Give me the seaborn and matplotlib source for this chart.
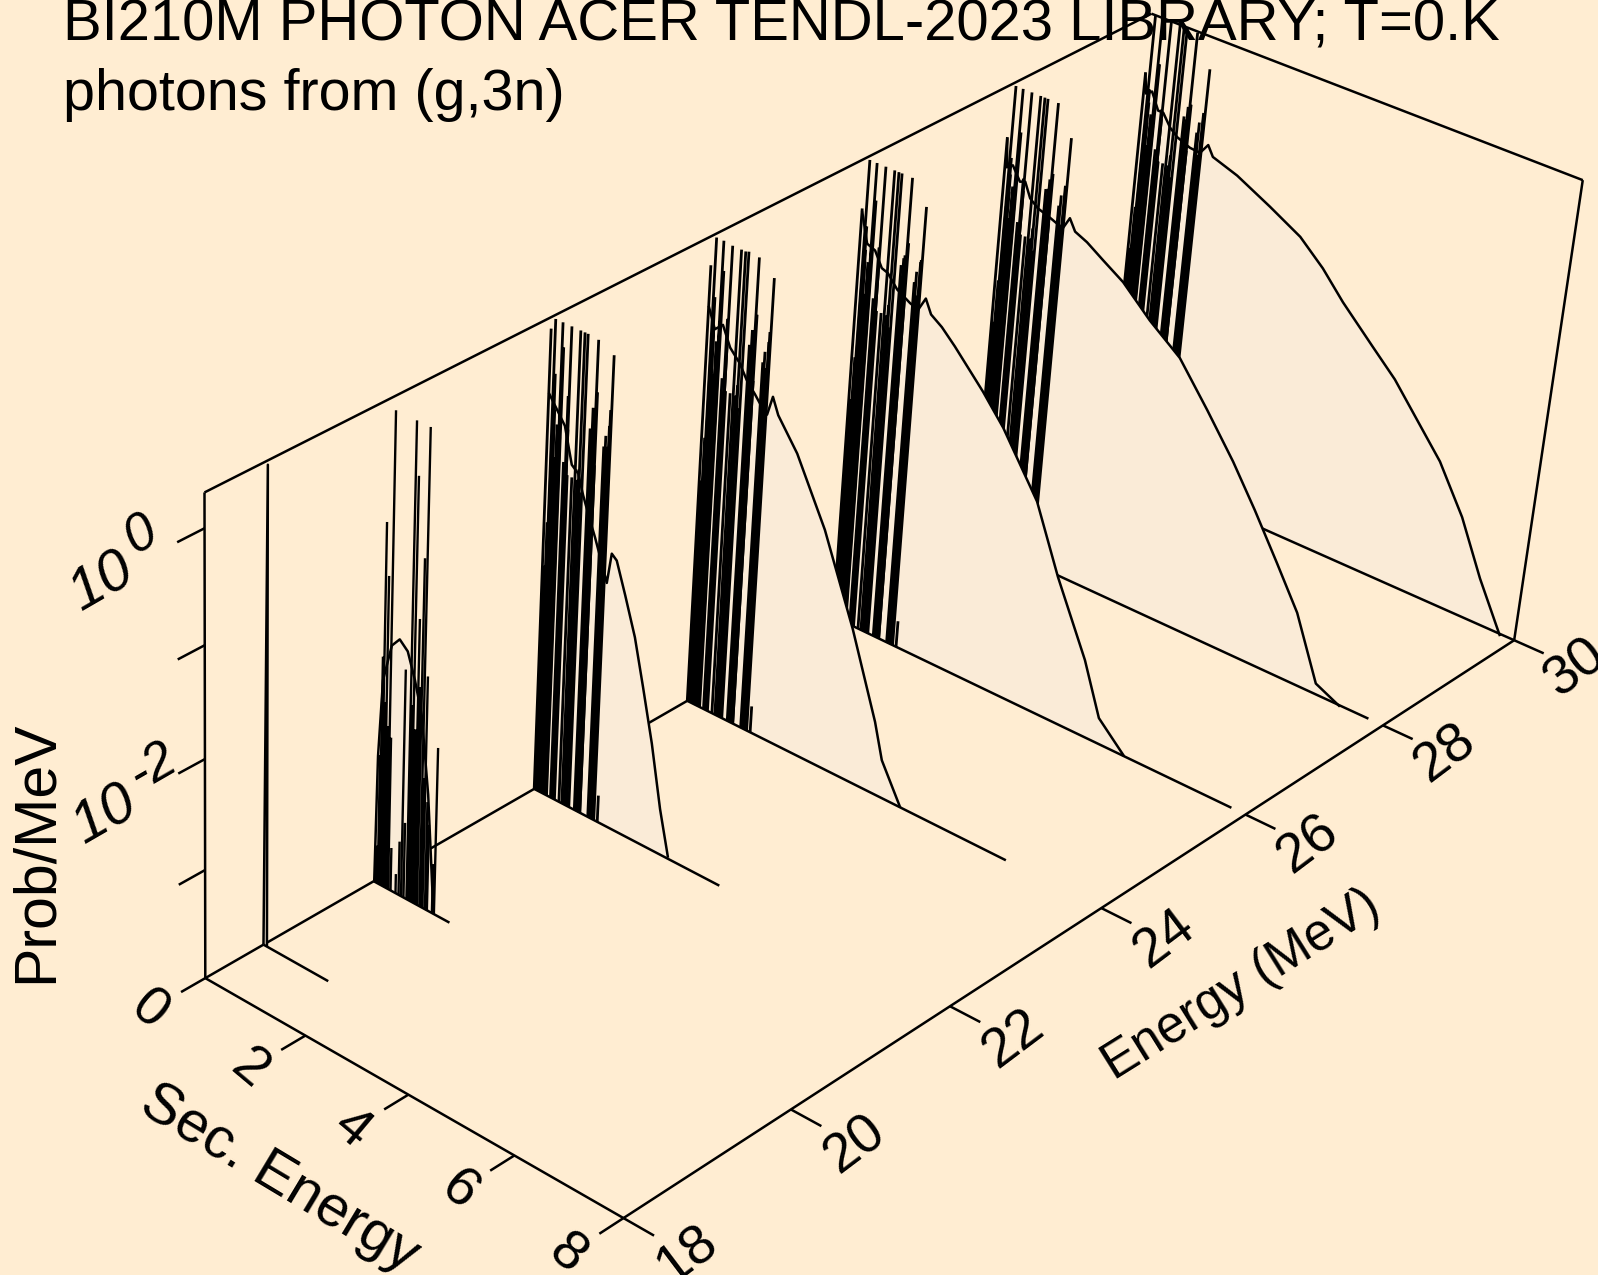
import numpy as np
import matplotlib
matplotlib.use('Agg')
import matplotlib.pyplot as plt
import seaborn as sns

# incident energies (MeV) of the seven spectra, back row last
row_energy = [18.68, 20, 22, 24, 26, 28, 30]
row_end = [1.30, 1.52, 3.67, 6.23, 7.74, 7.73, 8.0]

# continuum curves: secondary energy (MeV) and log10(prob/MeV)
sec_0 = [0.0, 0.035, 0.07]
log_0 = [-4.0, 0.28, -4.0]
sec_1 = [0.01, 0.04, 0.11, 0.27, 0.42, 0.58, 0.73, 0.88, 1.04, 1.19]
log_1 = [-3.99, -2.82, -2.11, -1.76, -1.67, -1.74, -1.96, -2.25, -2.93, -3.93]
sec_2 = [0.0, 0.33, 0.49, 0.62, 0.73, 0.84, 0.99, 1.14, 1.25, 1.32, 1.42, 1.61, 1.83, 2.03, 2.25, 2.47, 2.67]
log_2 = [-0.36, -0.58, -0.89, -0.94, -1.11, -1.25, -1.43, -1.63, -1.78, -1.50, -1.54, -1.81, -2.14, -2.55, -3.02, -3.58, -3.99]
sec_3 = [0.0, 0.14, 0.29, 0.45, 0.65, 0.80, 0.97, 1.14, 1.22, 1.31, 1.43, 1.83, 2.44, 3.09, 3.63, 3.81, 4.22]
log_3 = [-0.32, -0.50, -0.43, -0.60, -0.70, -0.82, -0.91, -1.01, -1.04, -0.86, -1.00, -1.26, -1.82, -2.59, -3.33, -3.65, -4.00]
sec_4 = [0.0, 0.14, 0.30, 0.45, 0.57, 0.77, 1.03, 1.19, 1.32, 1.44, 1.66, 1.93, 2.52, 2.95, 3.69, 4.20, 4.84, 5.20, 5.73]
log_4 = [-0.17, -0.44, -0.47, -0.60, -0.62, -0.73, -0.80, -0.83, -0.70, -0.82, -0.89, -1.01, -1.30, -1.54, -2.06, -2.65, -3.29, -3.76, -4.00]
sec_5 = [0.0, 0.04, 0.15, 0.31, 0.41, 0.53, 0.69, 0.94, 1.10, 1.20, 1.31, 1.43, 1.67, 2.00, 2.41, 2.97, 3.59, 4.19, 4.76, 5.25, 5.76, 6.23, 6.72, 7.20]
log_5 = [-0.19, -0.45, -0.41, -0.53, -0.51, -0.64, -0.70, -0.74, -0.77, -0.78, -0.67, -0.77, -0.82, -0.92, -1.04, -1.28, -1.50, -1.86, -2.22, -2.57, -2.96, -3.33, -3.90, -4.01]
sec_6 = [0.0, 0.05, 0.16, 0.31, 0.41, 0.57, 0.72, 0.98, 1.18, 1.32, 1.43, 1.92, 2.59, 3.21, 3.69, 4.13, 4.77, 5.24, 6.24, 6.77, 7.24, 7.74]
log_6 = [-0.25, -0.43, -0.39, -0.54, -0.54, -0.65, -0.71, -0.76, -0.77, -0.67, -0.76, -0.84, -1.0, -1.16, -1.36, -1.59, -1.88, -2.09, -2.66, -3.08, -3.57, -4.02]

# discrete gamma lines, row at 20 MeV
lines_sec_1 = [0.26, 0.66, 0.92, 0.13, 0.19, 0.72, 0.87, 0.98, 0.55, 0.29, 0.05, 0.44, 1.21, 1.17,
               0.03, 0.08, 0.10, 0.16, 0.22, 0.34, 0.50, 0.60, 0.68, 0.76, 0.80, 0.84, 0.95, 1.03, 1.07]
lines_log_1 = [0.29, 0.29, 0.29, -0.70, -1.16, -0.17, -0.85, -1.87, -1.91, -2.59, -3.65, -3.82, -2.46, -3.54,
               -3.7, -2.8, -1.9, -2.3, -2.5, -3.6, -3.5, -3.3, -2.2, -2.4, -1.4, -2.0, -2.8, -3.0, -3.2]

# discrete gamma lines that stand out in the rows from 22 to 30 MeV
tall_sec = [0.0, 0.08, 0.11, 0.12, 0.22, 0.23, 0.25, 0.37, 0.39, 0.56, 0.64, 0.70, 0.85, 0.90, 0.92, 1.13, 1.18, 1.20]
tall_log_2 = [0.20, 0.30, -0.17, -0.48, 0.30, -0.36, 0.09, -0.31, 0.30, 0.30, 0.30, 0.30, -0.31, 0.29, -0.16, -0.59, -0.26, 0.22]
tall_log_3 = [0.04, 0.30, -0.22, -0.53, 0.30, -0.41, 0.04, -0.36, 0.29, 0.29, 0.29, 0.30, -0.36, 0.29, -0.21, -0.64, -0.31, 0.17]
tall_log_4 = [-0.15, 0.30, -0.29, -0.60, 0.30, -0.48, -0.03, -0.43, 0.30, 0.30, 0.30, 0.30, -0.43, 0.30, -0.28, -0.71, -0.38, 0.10]
tall_log_5 = [-0.18, 0.30, -0.35, -0.66, 0.30, -0.54, -0.09, -0.49, 0.30, 0.30, 0.30, 0.30, -0.49, 0.30, -0.34, -0.77, -0.44, 0.04]
tall_log_6 = [-0.24, 0.30, -0.38, -0.69, 0.30, -0.57, -0.12, -0.52, 0.30, 0.30, 0.30, 0.30, -0.52, 0.29, -0.37, -0.80, -0.47, 0.01]

# the weaker lines that pack together into the black bands
band_sec = [0.03, 0.06, 0.09, 0.12, 0.15, 0.18, 0.21, 0.24,
            0.33, 0.36, 0.39, 0.41,
            0.50,
            0.60, 0.63, 0.66,
            0.81, 0.84, 0.87, 0.90, 0.92,
            1.08, 1.11, 1.14, 1.17,
            1.27]
band_log = [-1.9, -1.5, -0.8, -0.5, -0.9, -0.6, -1.1, -0.7,
            -0.9, -1.1, -0.6, -1.0,
            -1.0,
            -1.0, -0.9, -1.1,
            -0.5, -0.6, -0.4, -0.7, -0.8,
            -0.6, -0.5, -0.8, -0.4,
            -3.75]

energy_ticks = [18, 20, 22, 24, 26, 28, 30]
sec_ticks = [0, 2, 4, 6, 8]
log_ticks = [0, -1, -2, -3]
log_floor = -4.0
log_top = 0.301

BG = '#ffedd2'
FILL = '#faebd7'

# camera of the view: (energy, sec, log10 prob, 1) -> picture pixels
camera = np.array([[122.40660355, 66.03069608, -3.85623221, -1935.90874996],
                   [-51.71102794, 29.62177988, -164.25131384, 1621.39073459],
                   [0.01707298, -0.00960897, -0.01760898, 1.0]])


def project(e, s, z):
    e, s, z = np.broadcast_arrays(np.atleast_1d(e), np.atleast_1d(s), np.atleast_1d(z))
    pts = camera @ np.vstack([e, s, z, np.ones(e.shape)])
    return pts[0] / pts[2], pts[1] / pts[2]


sns.set_theme(style='white', rc={'figure.facecolor': BG, 'axes.facecolor': BG})
plt.rcParams['font.family'] = ['Liberation Sans', 'DejaVu Sans']
plt.rcParams['text.color'] = 'black'

fig = plt.figure(figsize=(15.98, 12.75), dpi=100)
ax = fig.add_axes([0, 0, 1, 1])
ax.set_xlim(0, 1598)
ax.set_ylim(1275, 0)
ax.axis('off')

order = [10]


def draw(e, s, z, lw=1.8):
    x, y = project(e, np.asarray(s, float), np.asarray(z, float))
    order[0] += 1
    sns.lineplot(x=x, y=y, sort=False, estimator=None, color='black', linewidth=lw,
                 legend=False, ax=ax, zorder=order[0], solid_capstyle='butt')


def spikes(e, sec, log, lw):
    xs, ys = [], []
    for s, z in zip(sec, log):
        x, y = project(e, [s, s], [log_floor, z])
        xs += [x[0], x[1], np.nan]
        ys += [y[0], y[1], np.nan]
    order[0] += 1
    ax.plot(xs, ys, color='black', lw=lw, solid_capstyle='butt', zorder=order[0])


# back walls
draw([18, 30], [0, 0], [log_top, log_top])
draw([30, 30], [0, 8], [log_top, log_top])
draw([18, 18], [0, 0], [log_floor, log_top])
draw([30, 30], [8, 8], [log_floor, log_top])
draw([18, 30], [0, 0], [log_floor, log_floor])

curves = [(sec_0, log_0), (sec_1, log_1), (sec_2, log_2), (sec_3, log_3),
          (sec_4, log_4), (sec_5, log_5), (sec_6, log_6)]
tall = [None, None, tall_log_2, tall_log_3, tall_log_4, tall_log_5, tall_log_6]

# paint the rows from the back, each one hides what is behind it
for i in range(6, -1, -1):
    e = row_energy[i]
    sec, log = curves[i]
    px, py = project(e, np.r_[0.0, sec, sec[-1]], np.r_[log_floor, log, log_floor])
    order[0] += 1
    ax.fill(px, py, color=FILL, lw=0, zorder=order[0])
    if i == 1:
        spikes(e, lines_sec_1, lines_log_1, 1.7)
    elif i > 1:
        spikes(e, band_sec, band_log, 2.0)
        spikes(e, tall_sec, tall[i], 2.0)
    draw(e, sec, log)
    draw(e, [0, row_end[i]], [log_floor, log_floor])

# front axes and ticks
draw([18, 30], [8, 8], [log_floor, log_floor])
draw([18, 18], [0, 8], [log_floor, log_floor])
for t in energy_ticks:
    draw([t, t], [8, 8.55], [log_floor, log_floor])
    x, y = project(t, 9.15, log_floor)
    ax.text(x[0], y[0], str(t), fontsize=40, rotation=37, ha='center', va='center',
            rotation_mode='anchor', zorder=500)
for t in sec_ticks:
    draw([18, 17.72], [t, t], [log_floor, log_floor])
    x, y = project(17.35, t, log_floor)
    ax.text(x[0], y[0], str(t), fontsize=40, rotation=-40, ha='center', va='center',
            rotation_mode='anchor', zorder=500)
for t in log_ticks:
    draw([18, 17.7], [0, 0], [t, t])

ax.text(102, 582, '10', fontsize=42, style='italic', rotation=30, ha='center', va='center', zorder=500)
ax.text(141, 535, '0', fontsize=38, style='italic', rotation=30, ha='center', va='center', zorder=500)
ax.text(105, 815, '10', fontsize=42, style='italic', rotation=30, ha='center', va='center', zorder=500)
ax.text(153, 767, '-2', fontsize=38, style='italic', rotation=30, ha='center', va='center', zorder=500)

ax.text(36, 852, 'Prob/MeV', fontsize=42.5, rotation=90, ha='center', va='center', zorder=500)
ax.text(1241, 985, 'Energy (MeV)', fontsize=37, rotation=32, ha='center', va='center', zorder=500)
ax.text(280, 1179, 'Sec. Energy', fontsize=41.5, rotation=-31, ha='center', va='center', zorder=500)

ax.text(63, 41, 'BI210M PHOTON ACER TENDL-2023 LIBRARY; T=0.K', fontsize=41.75, va='baseline', zorder=500)
ax.text(63, 110, 'photons from (g,3n)', fontsize=41.4, va='baseline', zorder=500)

fig.savefig('out.png', dpi=100, facecolor=BG)
